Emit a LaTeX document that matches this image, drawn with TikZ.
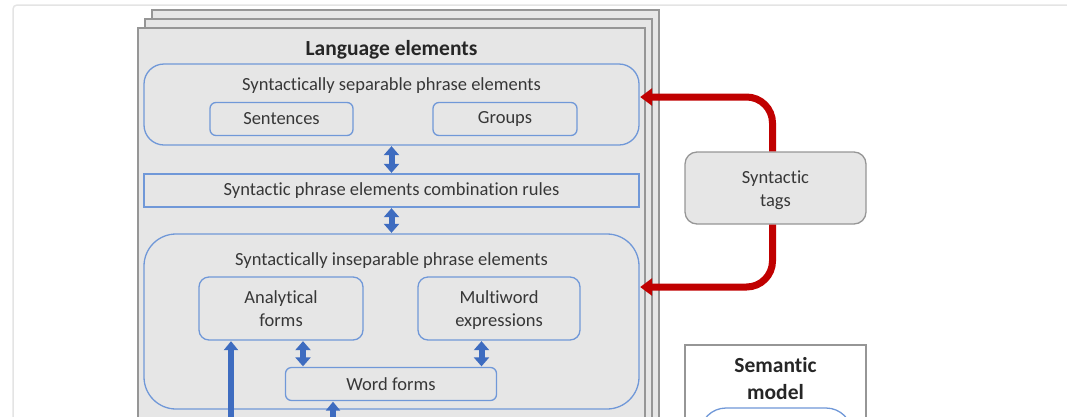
\documentclass[tikz,border=0pt]{standalone}
\usepackage{fontspec}
\setmainfont{Carlito}[RawFeature={-liga;-clig;-dlig;-calt}]
\usetikzlibrary{arrows.meta,calc}
\newcommand\tiNL{t\kern0pt i}
\newcommand\lnstrut{\rule[-3.8pt]{0pt}{20.8pt}}
\definecolor{pagefill}{RGB}{230,230,230}
\definecolor{pageline}{RGB}{150,150,150}
\definecolor{framecol}{RGB}{228,228,228}
\definecolor{boxblue}{RGB}{112,152,216}
\definecolor{arrblue}{RGB}{62,108,192}
\definecolor{arrred}{RGB}{192,0,0}
\definecolor{txt}{RGB}{55,55,55}
\tikzset{
  pagebox/.style={fill=pagefill,draw=pageline,line width=1.4pt},
  bluebox/.style={draw=boxblue,line width=1.3pt,text=txt,align=center,
    font=\fontsize{18.5}{23}\selectfont,inner sep=0pt},
  plain/.style={text=txt,align=center,font=\fontsize{18.5}{23}\selectfont,inner sep=0pt},
  boldtitle/.style={text=black!85,align=center,font=\fontsize{21.5}{27}\selectfont\bfseries,inner sep=0pt},
  bluedbl/.style={draw=arrblue,line width=6pt,{Triangle[width=15pt,length=9pt]}-{Triangle[width=15pt,length=9pt]},shorten <=0.5pt,shorten >=0.5pt},
  blueup/.style={draw=arrblue,line width=5.5pt,-{Triangle[width=14pt,length=9pt]},shorten >=0.5pt},
  redarr/.style={draw=arrred,line width=7pt,-{Triangle[width=17pt,length=12pt]},rounded corners=26pt,shorten >=0.5pt},
}
\begin{document}
\begin{tikzpicture}[x=1pt,y=-1pt]
\useasboundingbox (0,0) rectangle (1067,416);
% outer frame
\draw[framecol,line width=1.5pt,rounded corners=4pt] (1100,5) -- (13,5) -- (13,440);
% page stack
\draw[pagebox] (152,10) rectangle (659,440);
\draw[pagebox] (145,19) rectangle (652,440);
\draw[pagebox] (138,28) rectangle (645,440);
\node[boldtitle] (le) at (391.5,49.5) {Language elements};
% separable
\node[bluebox,rounded corners=20pt,minimum width=495pt,minimum height=81pt] (sep) at (391.5,104.5) {};
\node[plain] (septitle) at (391.5,86) {Syntac\tiNL cally separable phrase elements};
\node[bluebox,rounded corners=6pt,minimum width=143pt,minimum height=33pt] (sent) at (281.5,119) {Sentences};
\node[bluebox,rounded corners=6pt,minimum width=144pt,minimum height=33pt] (grp) at (505,119) {Groups};
% combination rules
\node[bluebox,minimum width=495pt,minimum height=33pt] (comb) at (391.5,190.5) {Syntac\tiNL c phrase elements combina\tiNL on rules};
% inseparable
\node[bluebox,rounded corners=32pt,minimum width=495pt,minimum height=175pt] (insep) at (391.5,321.5) {};
\node[plain] (inseptitle) at (391.5,261) {Syntac\tiNL cally inseparable phrase elements};
\node[bluebox,rounded corners=10pt,minimum width=164pt,minimum height=63pt] (anal) at (281,308.5) {Analy\tiNL cal\lnstrut\\forms\lnstrut};
\node[bluebox,rounded corners=10pt,minimum width=162pt,minimum height=63pt] (multi) at (499,308.5) {Multiword\lnstrut\\expressions\lnstrut};
\node[bluebox,rounded corners=6pt,minimum width=211pt,minimum height=33pt] (word) at (391,384) {Word forms};
% blue arrows
\draw[bluedbl] (sep.south) -- (comb.north);
\draw[bluedbl] (comb.south) -- (insep.north);
\draw[bluedbl] ([xshift=22pt]anal.south) -- ([xshift=22pt]anal.south |- word.north);
\draw[bluedbl] ([xshift=-17.5pt]multi.south) -- ([xshift=-17.5pt]multi.south |- word.north);
\coordinate (b1) at (231,440);
\coordinate (b2) at (333,440);
\draw[blueup] (b1) -- (b1 |- anal.south);
\draw[blueup] (b2) -- (b2 |- word.south);
% syntactic tags
\node[draw=pageline,fill=pagefill,line width=1.3pt,rounded corners=12pt,minimum width=181pt,minimum height=72pt,plain] (tags) at (775.5,188) {Syntac\tiNL c\lnstrut\\tags\lnstrut};
\draw[redarr] ([xshift=-3pt]tags.north) |- ([yshift=7.5pt]sep.east);
\draw[redarr] ([xshift=-3pt]tags.south) |- ([yshift=34.5pt]insep.east);
% semantic model
\draw[fill=white,draw=pageline,line width=1.3pt] (685,440) -- (685,345) -- (866,345) -- (866,440);
\node[boldtitle] (sem) at (775.5,379) {Seman\tiNL c\\model};
\draw[draw=boxblue,line width=1.3pt,rounded corners=26pt] (700,470) -- (700,408) -- (852,408) -- (852,470);
\end{tikzpicture}
\end{document}
